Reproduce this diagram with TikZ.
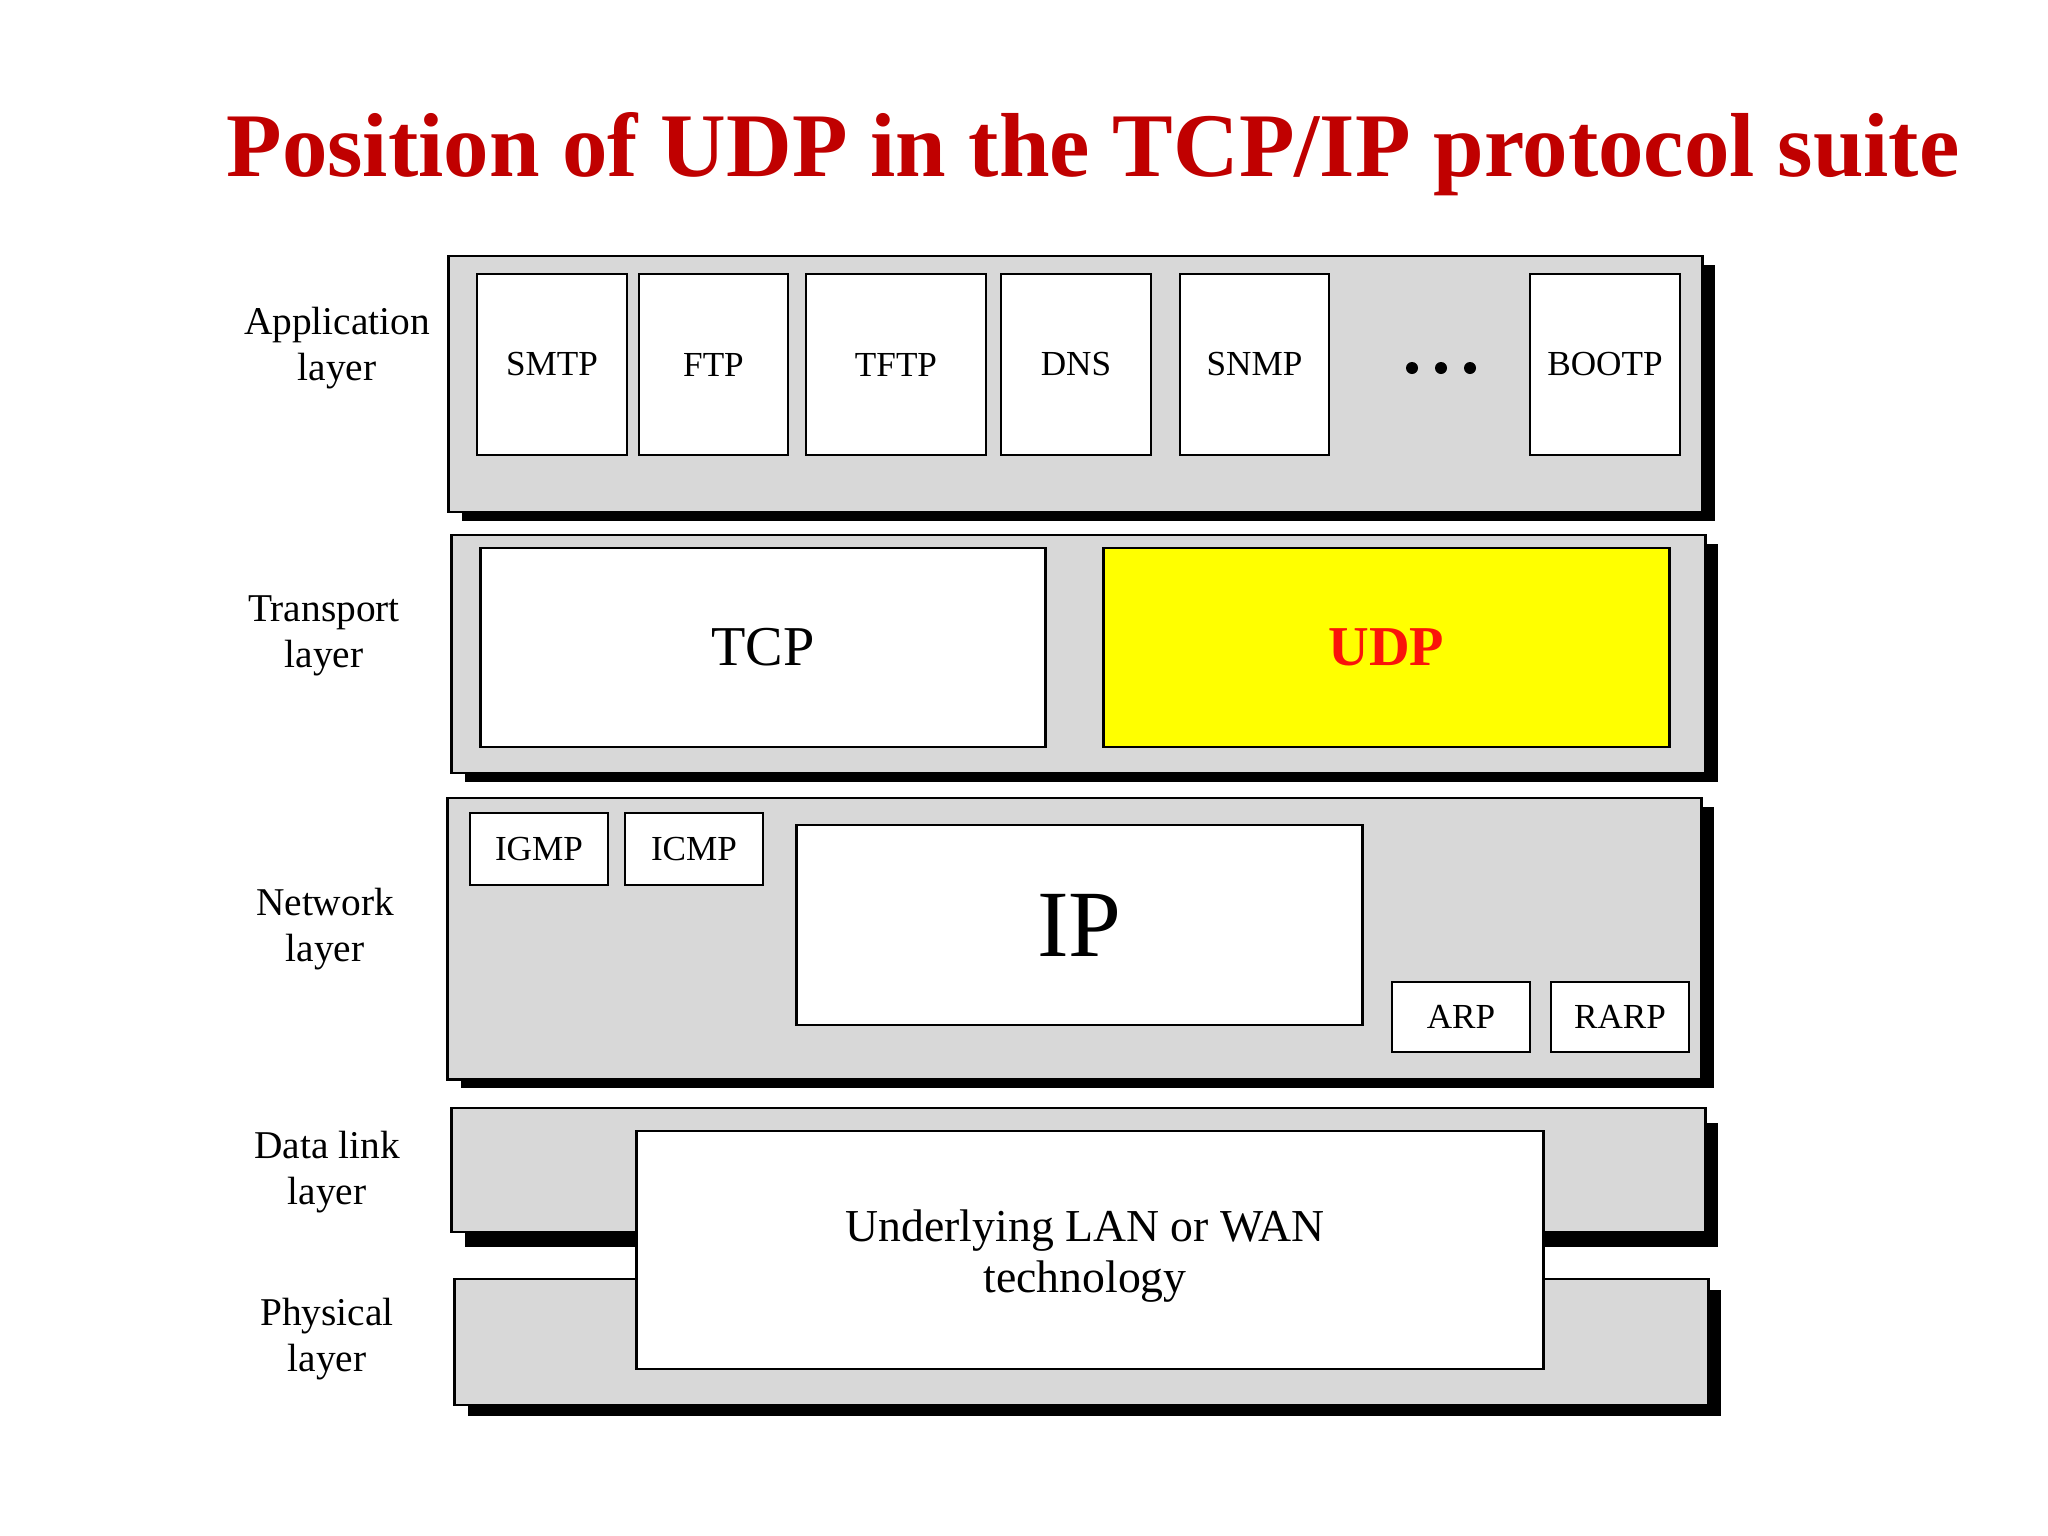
\documentclass[tikz,border=0pt]{standalone}
\usepackage{fontspec}
\setmainfont{Liberation Serif}
\usetikzlibrary{shadows}
\definecolor{layergray}{RGB}{216,216,216}
\definecolor{titlered}{RGB}{192,0,0}
\definecolor{udpred}{RGB}{250,20,10}
\definecolor{udpyellow}{RGB}{255,255,0}

\begin{document}
\begin{tikzpicture}[x=0.01cm,y=-0.01cm,
  layerframe/.style={draw=black,fill=layergray,line width=0.8pt,inner sep=0pt,
    drop shadow={shadow xshift=0.13cm,shadow yshift=#1,opacity=1,fill=black}},
  layerframe/.default=-0.09cm,
  proto/.style={draw=black,fill=white,line width=0.8pt,inner sep=0pt,
    font=\fontsize{10}{12}\selectfont},
  lname/.style={align=center,font=\fontsize{11.2}{13}\selectfont}]
\useasboundingbox (0,0) rectangle (2048,1536);

% title
\node[anchor=base,text=titlered,font=\fontsize{25.85}{30}\selectfont\bfseries] (title) at (1093,176)
  {Position of UDP in the TCP/IP protocol suite};

% layer names
\node[lname] (appname) at (337,348) {Application\\layer};
\node[lname] (trname) at (324,636) {Transport\\layer};
\node[lname] (netname) at (325,929) {Network\\layer};
\node[lname] (dlname) at (327,1172) {Data link\\layer};
\node[lname] (phyname) at (327,1339) {Physical\\layer};

% layer frames
\node[layerframe,minimum width=12.53cm,minimum height=2.56cm] (app) at (1075.5,384) {};
\node[layerframe,minimum width=12.53cm,minimum height=2.38cm] (tr) at (1078.5,654) {};
\node[layerframe,minimum width=12.53cm,minimum height=2.81cm] (net) at (1074.5,938.5) {};
\node[layerframe=-0.15cm,minimum width=12.53cm,minimum height=1.24cm] (dl) at (1078.5,1170) {};
\node[layerframe=-0.11cm,minimum width=12.53cm,minimum height=1.26cm] (phy) at (1081.5,1342) {};

% application layer
\node[proto,minimum width=1.50cm,minimum height=1.81cm] (smtp) at (552,364.5) {SMTP};
\node[proto,minimum width=1.49cm,minimum height=1.81cm] (ftp) at (713.5,364.5) {FTP};
\node[proto,minimum width=1.80cm,minimum height=1.81cm] (tftp) at (896,364.5) {TFTP};
\node[proto,minimum width=1.50cm,minimum height=1.81cm] (dns) at (1076,364.5) {DNS};
\node[proto,minimum width=1.49cm,minimum height=1.81cm] (snmp) at (1254.5,364.5) {SNMP};
\node[proto,minimum width=1.50cm,minimum height=1.81cm] (bootp) at (1605,364.5) {BOOTP};
\foreach \dx in {1412,1441,1470}
  \fill (\dx,368) circle (0.06cm);

% transport layer
\node[proto,minimum width=5.64cm,minimum height=1.99cm,font=\fontsize{16}{19}\selectfont] (tcp) at (763,647.5) {TCP};
\node[proto,fill=udpyellow,text=udpred,minimum width=5.65cm,minimum height=1.99cm,
  font=\fontsize{16}{19}\selectfont\bfseries] (udp) at (1386.5,647.5) {UDP};

% network layer
\node[proto,minimum width=1.38cm,minimum height=0.72cm] (igmp) at (539,849) {IGMP};
\node[proto,minimum width=1.38cm,minimum height=0.72cm] (icmp) at (694,849) {ICMP};
\node[proto,minimum width=5.65cm,minimum height=2.00cm,font=\fontsize{27}{32}\selectfont] (ip) at (1079.5,925) {IP};
\node[proto,minimum width=1.38cm,minimum height=0.70cm] (arp) at (1461,1017) {ARP};
\node[proto,minimum width=1.38cm,minimum height=0.70cm] (rarp) at (1620,1017) {RARP};

% data link and physical layers
\node[proto,minimum width=9.06cm,minimum height=2.38cm,
  label={[align=center,font=\fontsize{13}{14.5}\selectfont,xshift=-0.05cm,yshift=-0.06cm]center:Underlying LAN or WAN\\technology}]
  (lanwan) at (1090,1250) {};
\end{tikzpicture}
\end{document}
